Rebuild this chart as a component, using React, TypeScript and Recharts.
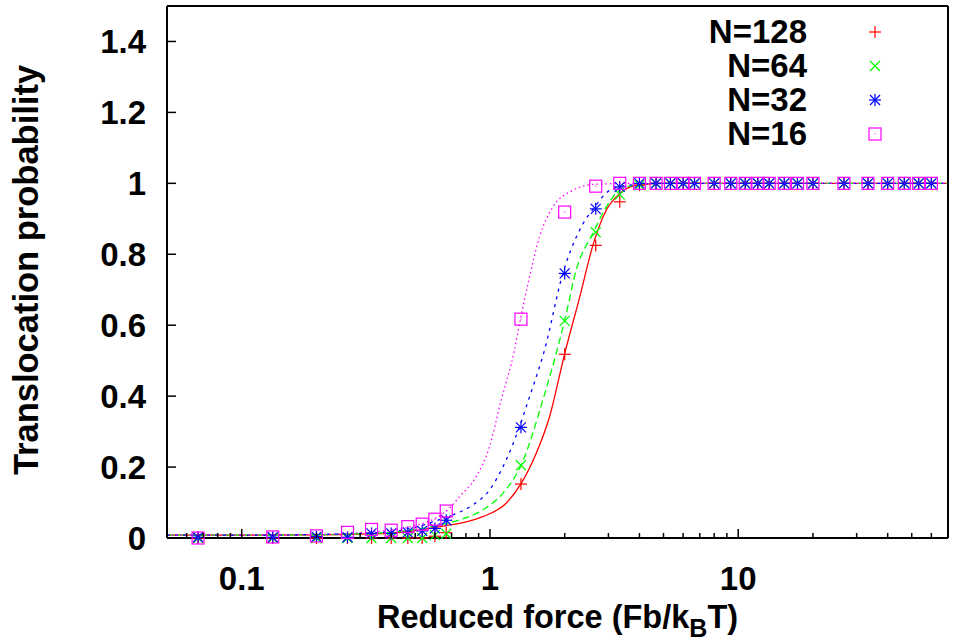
import React from 'react';
import { ComposedChart, Line, Scatter, XAxis, YAxis, Legend } from 'recharts';

// measured points (reduced force, translocation probability)
const forceX = [0.0667, 0.1333, 0.2, 0.2667, 0.3333, 0.4, 0.4667, 0.5333, 0.6, 0.6667, 1.333, 2, 2.667, 3.333, 4, 4.667, 5.333, 6, 6.667, 8, 9.333, 10.67, 12, 13.33, 15.33, 17.33, 20, 26.67, 33.33, 40, 46.67, 53.33, 60];
const probN128 = [0, 0, 0, 0, 0, 0, 0, 0, 0.005, 0.015, 0.152, 0.518, 0.825, 0.948, 0.995, 1, 1, 1, 1, 1, 1, 1, 1, 1, 1, 1, 1, 1, 1, 1, 1, 1, 1];
const probN64 = [0, 0, 0, 0, 0, 0, 0, 0, 0.008, 0.012, 0.205, 0.612, 0.862, 0.968, 0.995, 1, 1, 1, 1, 1, 1, 1, 1, 1, 1, 1, 1, 1, 1, 1, 1, 1, 1];
const probN32 = [0.002, 0.002, 0.004, 0.002, 0.013, 0.013, 0.016, 0.02, 0.027, 0.05, 0.312, 0.746, 0.928, 0.99, 1, 1, 1, 1, 1, 1, 1, 1, 1, 1, 1, 1, 1, 1, 1, 1, 1, 1, 1];
const probN16 = [0, 0.003, 0.006, 0.016, 0.024, 0.022, 0.032, 0.039, 0.053, 0.076, 0.617, 0.919, 0.992, 1, 1, 1, 1, 1, 1, 1, 1, 1, 1, 1, 1, 1, 1, 1, 1, 1, 1, 1, 1];

// fitted curves
const fitX128 = [0.05, 0.1, 0.2, 0.3, 0.4, 0.5, 0.6, 0.666, 0.753, 0.935, 1.162, 1.336, 1.536, 1.738, 2.0, 2.3, 2.61, 2.94, 3.33, 3.89, 5, 10, 70];
const fitP128 = [0.008, 0.008, 0.009, 0.011, 0.014, 0.021, 0.03, 0.035, 0.041, 0.06, 0.098, 0.154, 0.239, 0.342, 0.52, 0.68, 0.83, 0.924, 0.971, 0.994, 1, 1, 1];
const fitX64 = [0.05, 0.1, 0.2, 0.3, 0.4, 0.5, 0.6, 0.666, 0.753, 0.935, 1.126, 1.336, 1.633, 2.0, 2.225, 2.614, 2.941, 3.327, 4.0, 5, 10, 70];
const fitP64 = [0.008, 0.008, 0.009, 0.012, 0.016, 0.024, 0.034, 0.041, 0.051, 0.079, 0.126, 0.206, 0.389, 0.614, 0.755, 0.863, 0.933, 0.98, 0.997, 1, 1, 1];
const fitX32 = [0.05, 0.1, 0.2, 0.3, 0.4, 0.5, 0.645, 0.708, 0.852, 0.995, 1.162, 1.315, 1.443, 1.659, 1.966, 2.296, 2.638, 3.033, 3.541, 5, 10, 70];
const fitP32 = [0.008, 0.008, 0.01, 0.013, 0.018, 0.03, 0.055, 0.065, 0.093, 0.135, 0.22, 0.314, 0.398, 0.53, 0.746, 0.868, 0.933, 0.98, 0.994, 1, 1, 1];
const fitX16 = [0.05, 0.1, 0.2, 0.3, 0.4, 0.5, 0.6, 0.687, 0.753, 0.88, 0.995, 1.11, 1.255, 1.324, 1.443, 1.583, 1.791, 2.158, 2.597, 4, 10, 70];
const fitP16 = [0.008, 0.008, 0.01, 0.015, 0.022, 0.035, 0.055, 0.084, 0.116, 0.173, 0.257, 0.389, 0.53, 0.614, 0.736, 0.849, 0.933, 0.98, 0.997, 1, 1, 1];

const xMajorTicks = [0.1, 1, 10];
const xTickLabels = ['0.1', '1', '10'];
const xMinorTicks = [0.05, 0.06, 0.07, 0.08, 0.09, 0.2, 0.3, 0.4, 0.5, 0.6, 0.7, 0.8, 0.9, 2, 3, 4, 5, 6, 7, 8, 9, 20, 30, 40, 50, 60, 70];
const yTicks = [0, 0.2, 0.4, 0.6, 0.8, 1, 1.2, 1.4];
const yTickLabels = ['0', '0.2', '0.4', '0.6', '0.8', '1', '1.2', '1.4'];

const seriesLabels = ['N=128', 'N=64', 'N=32', 'N=16'];
const seriesColors = ['#ff0000', '#00ff00', '#0000ff', '#ff00ff'];
const seriesMarks = ['plus', 'cross', 'star', 'square'];

const font = '"Liberation Sans", Arial, Helvetica, sans-serif';
const xAllTicks = [...xMinorTicks, ...xMajorTicks].sort((a, b) => a - b);

const toPoints = (xs: number[], ys: number[]) => xs.map((x, i) => ({ x, p: ys[i] }));

const Marker = ({ kind, color, cx, cy }: any) => {
  const s = 6;
  const plus = (
    <>
      <line x1={cx - s} y1={cy} x2={cx + s} y2={cy} />
      <line x1={cx} y1={cy - s} x2={cx} y2={cy + s} />
    </>
  );
  const cross = (
    <>
      <line x1={cx - 5} y1={cy - 5} x2={cx + 5} y2={cy + 5} />
      <line x1={cx - 5} y1={cy + 5} x2={cx + 5} y2={cy - 5} />
    </>
  );
  return (
    <g stroke={color} strokeWidth={1.2} fill="none">
      {kind === 'plus' && plus}
      {kind === 'cross' && cross}
      {kind === 'star' && (<>{plus}{cross}</>)}
      {kind === 'square' && (
        <>
          <rect x={cx - s} y={cy - s} width={2 * s} height={2 * s} />
          <rect x={cx - 0.5} y={cy - 0.5} width={1} height={1} fill={color} stroke="none" />
        </>
      )}
    </g>
  );
};

const BottomTick = (props: any) => {
  const { x, y, payload } = props;
  const i = xMajorTicks.indexOf(payload.value);
  return (
    <g>
      <line x1={x} y1={y} x2={x} y2={y - (i >= 0 ? 9 : 5)} stroke="#000" strokeWidth={1.5} />
      {i >= 0 && (
        <text x={x} y={y + 52} textAnchor="middle" fontFamily={font} fontWeight="bold" fontSize={33} fill="#000">
          {xTickLabels[i]}
        </text>
      )}
    </g>
  );
};

const TopTick = (props: any) => {
  const { x, y, payload } = props;
  const major = xMajorTicks.includes(payload.value);
  return <line x1={x} y1={y} x2={x} y2={y + (major ? 9 : 5)} stroke="#000" strokeWidth={1.5} />;
};

const LeftTick = (props: any) => {
  const { x, y, payload } = props;
  const i = yTicks.indexOf(payload.value);
  return (
    <g>
      <line x1={x} y1={y} x2={x + 9} y2={y} stroke="#000" strokeWidth={1.5} />
      <text x={x - 21} y={y + 12} textAnchor="end" fontFamily={font} fontWeight="bold" fontSize={33} fill="#000">
        {yTickLabels[i]}
      </text>
    </g>
  );
};

const RightTick = (props: any) => {
  const { x, y } = props;
  return <line x1={x} y1={y} x2={x - 9} y2={y} stroke="#000" strokeWidth={1.5} />;
};

const XLabel = (props: any) => {
  const { x, y, width } = props.viewBox;
  return (
    <text x={x + width / 2} y={y + 90} textAnchor="middle" fontFamily={font} fontWeight="bold" fontSize={32.5} fill="#000">
      Reduced force (Fb/k<tspan dy={9} fontSize={25}>B</tspan><tspan dy={-9}>T)</tspan>
    </text>
  );
};

const YLabel = (props: any) => {
  const { y, height } = props.viewBox;
  const cy = y + height / 2 - 2;
  return (
    <text x={38} y={cy} transform={`rotate(-90, 38, ${cy})`} textAnchor="middle" fontFamily={font} fontWeight="bold" fontSize={34.5} fill="#000">
      Translocation probability
    </text>
  );
};

const LegendBox = () => (
  <div style={{ fontFamily: font, fontWeight: 'bold', fontSize: 33 }}>
    {seriesLabels.map((label, i) => (
      <div key={label} style={{ display: 'flex', alignItems: 'center', height: 34 }}>
        <span style={{ width: 127, textAlign: 'right', lineHeight: '34px' }}>{label}</span>
        <svg width={24} height={24} style={{ marginLeft: 56 }}>
          <Marker kind={seriesMarks[i]} color={seriesColors[i]} cx={12} cy={12} />
        </svg>
      </div>
    ))}
  </div>
);

const scatterData = [probN128, probN64, probN32, probN16].map((ys) => toPoints(forceX, ys));
const fitData = [toPoints(fitX128, fitP128), toPoints(fitX64, fitP64), toPoints(fitX32, fitP32), toPoints(fitX16, fitP16)];
const fitDash = [undefined, '7 4', '3 5', '1.5 3'];

export default function App() {
  return (
    <div style={{ position: 'absolute', left: 0, top: 0 }}>
      <ComposedChart width={953} height={641} margin={{ top: 0, right: 0, bottom: 0, left: 0 }}>
        <XAxis xAxisId="bottom" type="number" dataKey="x" scale="log" domain={[0.05, 70]} ticks={xAllTicks} interval={0}
          tick={(p: any) => <BottomTick {...p} />} tickLine={false} tickSize={0} tickMargin={0}
          axisLine={{ stroke: '#000', strokeWidth: 2 }} height={103} label={(p: any) => <XLabel {...p} />} />
        <XAxis xAxisId="top" orientation="top" type="number" dataKey="x" scale="log" domain={[0.05, 70]} ticks={xAllTicks} interval={0}
          tick={(p: any) => <TopTick {...p} />} tickLine={false} tickSize={0} tickMargin={0}
          axisLine={{ stroke: '#000', strokeWidth: 2 }} height={6} />
        <YAxis yAxisId="left" type="number" domain={[0, 1.5]} ticks={yTicks} interval={0}
          tick={(p: any) => <LeftTick {...p} />} tickLine={false} tickSize={0} tickMargin={0}
          axisLine={{ stroke: '#000', strokeWidth: 2 }} width={167} label={(p: any) => <YLabel {...p} />} />
        <YAxis yAxisId="right" orientation="right" type="number" domain={[0, 1.5]} ticks={yTicks} interval={0}
          tick={(p: any) => <RightTick {...p} />} tickLine={false} tickSize={0} tickMargin={0}
          axisLine={{ stroke: '#000', strokeWidth: 2 }} width={5} />
        {scatterData.map((d, i) => (
          <Scatter key={seriesLabels[i]} name={seriesLabels[i]} data={d} dataKey="p" xAxisId="bottom" yAxisId="left"
            isAnimationActive={false}
            shape={(p: any) => <Marker kind={seriesMarks[i]} color={seriesColors[i]} cx={p.cx} cy={p.cy} />} />
        ))}
        {fitData.map((d, i) => (
          <Line key={'fit' + i} data={d} dataKey="p" xAxisId="bottom" yAxisId="left" type="monotone"
            stroke={seriesColors[i]} strokeWidth={1.3} strokeDasharray={fitDash[i]} dot={false}
            activeDot={false} legendType="none" isAnimationActive={false} />
        ))}
        <Legend layout="horizontal" verticalAlign="middle" align="center" content={() => <LegendBox />}
          wrapperStyle={{ left: 680, top: 15, width: 220 }} />
      </ComposedChart>
    </div>
  );
}
